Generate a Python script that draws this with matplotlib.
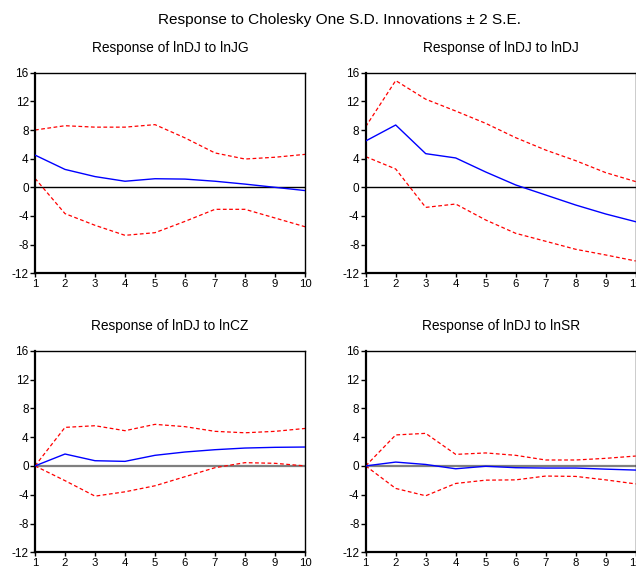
import matplotlib
matplotlib.use("Agg")
import matplotlib.pyplot as plt

plt.rcParams["font.family"] = ["Liberation Sans", "DejaVu Sans"]
plt.rcParams["axes.unicode_minus"] = False

# Horizons et réponses
periods = [1, 2, 3, 4, 5, 6, 7, 8, 9, 10]

jg_resp = [4.5, 2.5, 1.5, 0.85, 1.2, 1.15, 0.85, 0.45, 0.0, -0.45]
jg_upper = [8.0, 8.6, 8.4, 8.4, 8.75, 6.9, 4.8, 3.95, 4.2, 4.6]
jg_lower = [1.25, -3.67, -5.3, -6.7, -6.33, -4.75, -3.07, -3.07, -4.28, -5.5]

dj_resp = [6.47, 8.7, 4.7, 4.1, 2.14, 0.33, -1.07, -2.47, -3.72, -4.8]
dj_upper = [8.47, 14.9, 12.3, 10.65, 8.93, 6.93, 5.2, 3.72, 2.05, 0.8]
dj_lower = [4.28, 2.56, -2.8, -2.33, -4.56, -6.42, -7.53, -8.65, -9.44, -10.28]

cz_resp = [0.0, 1.65, 0.72, 0.63, 1.47, 1.93, 2.25, 2.48, 2.58, 2.62]
cz_upper = [0.0, 5.35, 5.58, 4.89, 5.77, 5.45, 4.8, 4.6, 4.8, 5.2]
cz_lower = [0.0, -2.05, -4.2, -3.6, -2.76, -1.5, -0.25, 0.45, 0.36, 0.0]

sr_resp = [0.0, 0.53, 0.2, -0.4, -0.05, -0.25, -0.3, -0.3, -0.45, -0.58]
sr_upper = [0.0, 4.3, 4.52, 1.6, 1.8, 1.47, 0.82, 0.82, 1.05, 1.37]
sr_lower = [0.0, -3.13, -4.15, -2.44, -1.98, -1.94, -1.41, -1.46, -1.94, -2.5]

titles = ["Response of lnDJ to lnJG", "Response of lnDJ to lnDJ",
          "Response of lnDJ to lnCZ", "Response of lnDJ to lnSR"]
y_ticks = [-12, -8, -4, 0, 4, 8, 12, 16]

W, H = 636, 568
fig = plt.figure(figsize=(W / 100, H / 100), dpi=100)
fig.text(339.5 / W, 1 - 20 / H, "Response to Cholesky One S.D. Innovations \u00b1 2 S.E.",
         ha="center", va="center", fontsize=11.1)

# (gauche, haut, bas) en pixels
boxes = [(35, 72.7, 273.3), (365.7, 72.7, 273.3),
         (35, 350.7, 552.3), (365.7, 350.7, 552.3)]
series = [(jg_resp, jg_upper, jg_lower), (dj_resp, dj_upper, dj_lower),
          (cz_resp, cz_upper, cz_lower), (sr_resp, sr_upper, sr_lower)]
zero_colors = ["black", "black", "#7f7f7f", "#7f7f7f"]

for (left, top, bottom), (resp, up, low), title, zc in zip(boxes, series, titles, zero_colors):
    ax = fig.add_axes([left / W, 1 - bottom / H, 270 / W, (bottom - top) / H])
    ax.axhline(0, color=zc, linewidth=1.0 if zc == "black" else 1.6, zorder=1)
    ax.plot(periods, up, color="red", linestyle=(0, (3, 2)), linewidth=0.9, zorder=2)
    ax.plot(periods, low, color="red", linestyle=(0, (3, 2)), linewidth=0.9, zorder=2)
    ax.plot(periods, resp, color="blue", linewidth=1.0, zorder=3)
    ax.set_xlim(1, 10)
    ax.set_ylim(-12, 16)
    ax.set_xticks(periods)
    ax.set_yticks(y_ticks)
    ax.tick_params(axis="y", direction="out", length=3.3, width=1, labelsize=8.5,
                   pad=1.2, colors="black")
    ax.tick_params(axis="x", direction="out", length=3, width=1, labelsize=8.2,
                   pad=1.2, colors="black")
    for side in ("left", "bottom"):
        ax.spines[side].set_linewidth(1.6)
    for side in ("top", "right"):
        ax.spines[side].set_linewidth(1.0)
    fig.text((left + 135) / W, 1 - (top - 24.5) / H, title,
             ha="center", va="center", fontsize=9.9)

fig.savefig("out.png", dpi=100)
